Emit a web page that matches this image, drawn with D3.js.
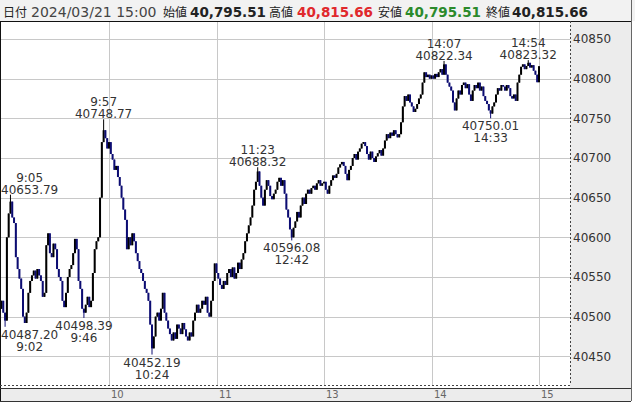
<!DOCTYPE html>
<html><head><meta charset="utf-8">
<script src="https://cdn.jsdelivr.net/npm/d3@7"></script>
<style>
html,body{margin:0;padding:0;background:#fff;}
svg{display:block;}
</style></head>
<body>
<svg id="c" width="635" height="403"></svg>
<script>
// ---------------- data ----------------
const headerDate = "2024/03/21 15:00";
const headerLabels = ["始値", "高値", "安値", "終値"];
const headerValues = ["40,795.51", "40,815.66", "40,795.51", "40,815.66"];
const headerColors = ["#222", "#e0282c", "#2b8a2b", "#222"];

const firstOpen = 40510;
// one close per minute: 9:00-11:29 (150) then 12:30-15:00 (151)
const morningCloses = [
 40520,40505,40495,40600,40630,40645,40625,40618,40575,40560,
 40548,40535,40500,40492,40505,40530,40545,40552,40558,40548,
 40560,40552,40545,40525,40530,40590,40605,40580,40575,40592,
 40585,40560,40550,40545,40520,40512,40530,40550,40560,40565,
 40580,40598,40585,40545,40535,40510,40505,40515,40525,40512,
 40520,40555,40585,40595,40600,40650,40720,40735,40725,40712,
 40720,40705,40698,40685,40690,40676,40665,40650,40635,40622,
 40585,40600,40590,40605,40595,40580,40570,40560,40555,40545,
 40535,40530,40520,40490,40460,40475,40500,40505,40495,40510,
 40530,40505,40495,40485,40478,40470,40480,40472,40490,40485,
 40478,40492,40484,40475,40470,40480,40475,40495,40505,40515,
 40505,40510,40520,40515,40525,40505,40500,40520,40545,40567,
 40555,40548,40540,40535,40545,40540,40555,40560,40550,40562,
 40548,40555,40568,40560,40572,40580,40595,40605,40615,40625,
 40640,40660,40670,40683,40665,40650,40640,40660,40672,40665
];
const afternoonCloses = [
 40652,40648,40655,40660,40670,40675,40665,40672,40655,40635,
 40625,40610,40600,40612,40620,40632,40625,40640,40650,40642,
 40655,40660,40655,40662,40665,40660,40668,40672,40665,40668,
 40670,40660,40655,40665,40672,40678,40675,40680,40688,40692,
 40695,40690,40680,40672,40685,40690,40700,40705,40698,40708,
 40712,40718,40720,40715,40705,40698,40708,40700,40695,40702,
 40706,40710,40703,40712,40722,40730,40725,40732,40728,40735,
 40730,40726,40730,40745,40765,40778,40772,40780,40770,40765,
 40758,40762,40768,40775,40780,40795,40808,40802,40805,40800,
 40804,40800,40806,40802,40808,40812,40805,40818,40805,40795,
 40790,40785,40770,40760,40775,40785,40780,40792,40795,40788,
 40793,40780,40772,40785,40792,40788,40795,40785,40790,40778,
 40772,40768,40760,40756,40765,40770,40780,40788,40785,40792,
 40790,40785,40792,40788,40778,40775,40780,40772,40795,40805,
 40815,40818,40812,40816,40820,40814,40817,40810,40805,40795.51,
 40815.66
];

const markTimes  = ["9:02","9:05","9:46","9:57","10:24","11:23","12:42","14:07","14:33","14:54"];
const markValues = [40487.20,40653.79,40498.39,40748.77,40452.19,40688.32,40596.08,40822.34,40750.01,40823.32];
const markKinds  = ["low","high","low","high","low","high","low","high","low","high"];

const yTicks = [40450,40500,40550,40600,40650,40700,40750,40800,40850];
const xTickLabels = ["10","11","13","14","15"];

// ---------------- helpers ----------------
function timeToIndex(t){
  const [h,m] = t.split(":").map(Number);
  const mins = h*60+m;
  return mins <= 690 ? mins-540 : 150 + (mins-750);
}

const closes = morningCloses.concat(afternoonCloses);
const candles = closes.map((c,i)=>{
  const o = i===0 ? firstOpen : closes[i-1];
  return {i, o, c, h: Math.max(o,c), l: Math.min(o,c)};
});
markTimes.forEach((t,k)=>{
  const d = candles[timeToIndex(t)];
  if(markKinds[k]==="high") d.h = Math.max(d.h, markValues[k]);
  else d.l = Math.min(d.l, markValues[k]);
});

// ---------------- layout ----------------
const svg = d3.select("#c");
const plotL = 0.5, plotR = 570, plotT = 21, plotB = 385;
const panelR = 631, axisT = 388, axisB = 401;

const x = d3.scaleLinear().domain([0,300]).range([1.5,539]);
const y = d3.scaleLinear().domain([40450,40850]).range([356.3,39]);

// header
svg.append("rect").attr("x",0).attr("y",0).attr("width",635).attr("height",plotT).attr("fill","#f2f2f2");
const hy = 17;
const hdr = svg.append("g").attr("font-family","DejaVu Sans, sans-serif");
hdr.append("text").attr("x",3).attr("y",hy).attr("font-family","Noto Sans CJK JP").attr("font-size",12).attr("fill","#222").text("日付");
hdr.append("text").attr("x",31).attr("y",hy).attr("font-size",14).attr("fill","#444").text(headerDate);
const labelX = [163,269,378,486];
const valueX = [190,297,405,512];
headerLabels.forEach((lab,k)=>{
  hdr.append("text").attr("x",labelX[k]).attr("y",hy).attr("font-family","Noto Sans CJK JP").attr("font-size",12).attr("fill","#222").text(lab);
  hdr.append("text").attr("x",valueX[k]).attr("y",hy).attr("font-size",13.5).attr("font-weight","bold").attr("fill",headerColors[k]).text(headerValues[k]);
});

// right panel & x axis band
svg.append("rect").attr("x",plotR).attr("y",plotT).attr("width",panelR-plotR).attr("height",axisT-plotT).attr("fill","#ececec");
svg.append("rect").attr("x",0).attr("y",axisT).attr("width",panelR).attr("height",axisB-axisT).attr("fill","#ececec");

// grid
const grid = svg.append("g").attr("stroke","#c8c8c8").attr("stroke-width",1);
yTicks.forEach(v=>{
  const yy = Math.round(y(v))+0.5;
  grid.append("line").attr("x1",plotL).attr("x2",plotR).attr("y1",yy).attr("y2",yy);
});
xTickLabels.forEach(h=>{
  const xx = Math.round(x(timeToIndex(h+":00")))+0.5;
  grid.append("line").attr("x1",xx).attr("x2",xx).attr("y1",plotT).attr("y2",plotB);
});

// borders
svg.append("line").attr("x1",0).attr("x2",panelR).attr("y1",plotT+0.5).attr("y2",plotT+0.5).attr("stroke","#111");
svg.append("line").attr("x1",0.5).attr("x2",0.5).attr("y1",plotT).attr("y2",axisB).attr("stroke","#111");
svg.append("line").attr("x1",plotR+0.5).attr("x2",plotR+0.5).attr("y1",plotT).attr("y2",plotB).attr("stroke","#444").attr("stroke-dasharray","2,2");
svg.append("line").attr("x1",0).attr("x2",plotR).attr("y1",plotB+0.5).attr("y2",plotB+0.5).attr("stroke","#444").attr("stroke-dasharray","2,2");
svg.append("line").attr("x1",0).attr("x2",panelR).attr("y1",axisT+0.5).attr("y2",axisT+0.5).attr("stroke","#333");
svg.append("line").attr("x1",0).attr("x2",panelR).attr("y1",axisB+0.5).attr("y2",axisB+0.5).attr("stroke","#333");
svg.append("line").attr("x1",panelR+0.5).attr("x2",panelR+0.5).attr("y1",0).attr("y2",axisB).attr("stroke","#666");

// y labels
const yl = svg.append("g").attr("font-family","DejaVu Sans, sans-serif").attr("font-size",12).attr("fill","#333");
yTicks.forEach(v=>{
  yl.append("text").attr("x",573).attr("y",y(v)).attr("dy","0.36em").text(v);
});
// x labels
const xl = svg.append("g").attr("font-family","DejaVu Sans, sans-serif").attr("font-size",10).attr("fill","#666");
xTickLabels.forEach(h=>{
  xl.append("text").attr("x",Math.round(x(timeToIndex(h+":00")))+2).attr("y",398).text(h);
});

// candles
svg.append("clipPath").attr("id","clip").append("rect").attr("x",1).attr("y",plotT+1).attr("width",plotR-1).attr("height",plotB-plotT-1);
const cg = svg.append("g").attr("clip-path","url(#clip)");
const up = "#000000", down = "#0c0c72";
cg.selectAll("line.w").data(candles).join("line").attr("class","w")
  .attr("x1",d=>x(d.i)).attr("x2",d=>x(d.i))
  .attr("y1",d=>y(d.h)).attr("y2",d=>y(d.l))
  .attr("stroke",d=>d.c>=d.o?up:down).attr("stroke-width",1);
cg.selectAll("rect.b").data(candles).join("rect").attr("class","b")
  .attr("x",d=>x(d.i)-1).attr("width",2)
  .attr("y",d=>y(Math.max(d.o,d.c)))
  .attr("height",d=>Math.max(1,y(Math.min(d.o,d.c))-y(Math.max(d.o,d.c))))
  .attr("fill",d=>d.c>=d.o?up:down);

// annotations
const ag = svg.append("g").attr("font-family","DejaVu Sans, sans-serif").attr("font-size",12).attr("fill","#333").attr("text-anchor","middle");
markTimes.forEach((t,k)=>{
  const cx = x(timeToIndex(t));
  const yv = y(markValues[k]);
  const valTxt = markValues[k].toFixed(2);
  let lines;
  if(markKinds[k]==="high") lines = [[t, yv-13],[valTxt, yv-1]];
  else lines = [[valTxt, yv+12],[t, yv+24]];
  const els = lines.map(([s,yy])=>ag.append("text").attr("y",yy).text(s));
  const w = d3.max(els, e=>e.node().getComputedTextLength());
  const px = Math.max(1+w/2, Math.min(plotR-1-w/2, cx));
  els.forEach(e=>e.attr("x",px));
});
</script>
</body></html>
